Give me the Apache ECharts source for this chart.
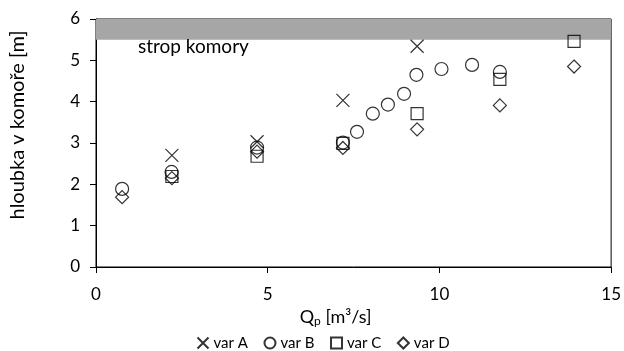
<!DOCTYPE html>
<html>
<head>
<meta charset="utf-8">
<script src="https://cdn.jsdelivr.net/npm/echarts@6/dist/echarts.min.js"></script>
<style>
  html, body { margin: 0; padding: 0; background: #fff; }
  #chart { width: 624px; height: 351px; }
</style>
</head>
<body>
<div id="chart"></div>
<script>
// Water depth in the chamber vs. discharge Qp, four variants
const xVarA = [2.21, 4.69, 7.19, 9.35];
const yVarA = [2.70, 3.03, 4.03, 5.34];

const xVarB = [0.76, 2.20, 4.69, 7.19, 7.60, 8.06, 8.50, 8.97, 9.33, 10.06, 10.95, 11.76];
const yVarB = [1.89, 2.30, 2.89, 3.01, 3.27, 3.71, 3.93, 4.19, 4.65, 4.79, 4.89, 4.72];

const xVarC = [2.21, 4.69, 7.19, 9.35, 11.76, 13.92];
const yVarC = [2.19, 2.68, 2.99, 3.71, 4.54, 5.46];

const xVarD = [0.76, 2.21, 4.69, 7.19, 9.35, 11.76, 13.92];
const yVarD = [1.69, 2.15, 2.79, 2.88, 3.33, 3.91, 4.85];

// chamber ceiling band
const ceilingFrom = 5.5;
const ceilingTo = 6;
const ceilingLabel = 'strop komory';

const seriesNames = ['var A', 'var B', 'var C', 'var D'];
const xTicks = [0, 5, 10, 15];

const FONT = 'Lato';
const crossPath = 'path://M0,0L10,10M10,0L0,10';

function pairs(xs, ys) { return xs.map((x, i) => [x, ys[i]]); }

const markerStyle = { color: 'none', borderColor: '#000', borderWidth: 1.2 };

const chart = echarts.init(document.getElementById('chart'), null, { renderer: 'canvas' });

chart.setOption({
  animation: false,
  backgroundColor: '#fff',
  textStyle: { fontFamily: FONT, color: '#000' },
  grid: { left: 95, right: 10, top: 19, bottom: 84, show: true, borderColor: '#000', borderWidth: 1 },
  legend: {
    top: 330,
    left: 190,
    itemWidth: 11,
    itemHeight: 11,
    itemGap: 14,
    textStyle: { fontFamily: FONT, fontSize: 15, color: '#000' },
    data: [
      { name: seriesNames[0], icon: crossPath },
      { name: seriesNames[1], icon: 'circle' },
      { name: seriesNames[2], icon: 'rect' },
      { name: seriesNames[3], icon: 'diamond' }
    ]
  },
  xAxis: {
    type: 'value',
    min: xTicks[0],
    max: xTicks[xTicks.length - 1],
    interval: 5,
    name: '{q|Q}{p|p}{q| [m³/s]}',
    nameLocation: 'middle',
    nameGap: 37,
    nameTextStyle: {
      padding: [0, 36, 0, 0],
      rich: {
        q: { fontFamily: FONT, fontSize: 18, color: '#000' },
        p: { fontFamily: FONT, fontSize: 12, color: '#000', verticalAlign: 'bottom', padding: [9, 0, 0, 0] }
      }
    },
    axisLine: { show: true, onZero: false, lineStyle: { color: '#000', width: 1 } },
    axisTick: { show: true, inside: false, length: 6, lineStyle: { color: '#000' } },
    axisLabel: { fontFamily: FONT, fontSize: 17, color: '#000', margin: 19 },
    splitLine: { show: false }
  },
  yAxis: {
    type: 'value',
    min: 0,
    max: 6,
    interval: 1,
    name: 'hloubka v komoře [m]',
    nameLocation: 'middle',
    nameGap: 68,
    nameTextStyle: { fontFamily: FONT, fontSize: 20, color: '#000', padding: [0, 0, 0, 36] },
    axisLine: { show: true, onZero: false, lineStyle: { color: '#000', width: 1 } },
    axisTick: { show: true, inside: false, length: 6, lineStyle: { color: '#000' } },
    axisLabel: { fontFamily: FONT, fontSize: 17, color: '#000', margin: 16 },
    splitLine: { show: false }
  },
  series: [
    {
      name: seriesNames[0],
      type: 'scatter',
      symbol: crossPath,
      symbolSize: 13,
      itemStyle: markerStyle,
      data: pairs(xVarA, yVarA),
      z: 5,
      markArea: {
        silent: true,
        itemStyle: { color: '#a6a6a6' },
        label: {
          show: true,
          position: [42, 18],
          fontFamily: FONT,
          fontSize: 19,
          color: '#000'
        },
        data: [[{ name: ceilingLabel, yAxis: ceilingFrom }, { yAxis: ceilingTo }]]
      }
    },
    {
      name: seriesNames[1],
      type: 'scatter',
      symbol: 'circle',
      symbolSize: 13,
      itemStyle: markerStyle,
      data: pairs(xVarB, yVarB),
      z: 5
    },
    {
      name: seriesNames[2],
      type: 'scatter',
      symbol: 'rect',
      symbolSize: 12,
      itemStyle: markerStyle,
      data: pairs(xVarC, yVarC),
      z: 5
    },
    {
      name: seriesNames[3],
      type: 'scatter',
      symbol: 'diamond',
      symbolSize: 13,
      itemStyle: markerStyle,
      data: pairs(xVarD, yVarD),
      z: 5
    }
  ]
});
</script>
</body>
</html>
